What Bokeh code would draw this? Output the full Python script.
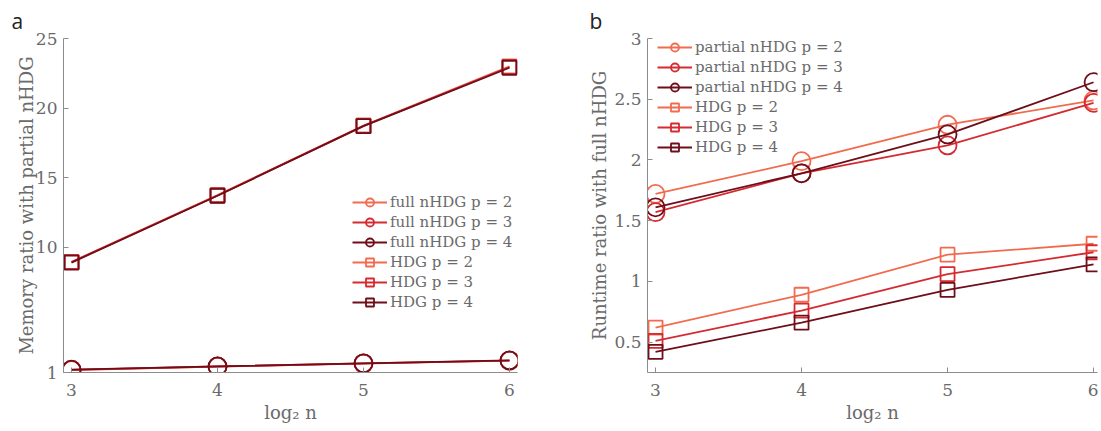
from bokeh.plotting import figure
from bokeh.layouts import row
from bokeh.models import FixedTicker, Legend, LegendItem, Range1d, Title
from bokeh.embed import file_html
from bokeh.resources import INLINE

# ---- data ----
log2n = [3, 4, 5, 6]
p_values = [2, 3, 4]
colors = ["#F26B4F", "#D42A30", "#6E0E1A"]

# panel a: memory ratio with partial nHDG
mem_full = {2: [1.18, 1.42, 1.64, 1.85], 3: [1.19, 1.43, 1.65, 1.86], 4: [1.2, 1.44, 1.66, 1.87]}
mem_hdg = {2: [8.95, 13.75, 18.75, 23.0], 3: [8.93, 13.72, 18.72, 22.95], 4: [8.9, 13.7, 18.7, 22.9]}
mem_yticks = [1, 10, 15, 20, 25]

# panel b: runtime ratio with full nHDG
run_partial = {2: [1.72, 1.99, 2.29, 2.49], 3: [1.57, 1.89, 2.12, 2.47], 4: [1.61, 1.89, 2.21, 2.64]}
run_hdg = {2: [0.62, 0.89, 1.22, 1.31], 3: [0.51, 0.76, 1.06, 1.24], 4: [0.42, 0.66, 0.93, 1.14]}
run_yticks = [0.5, 1, 1.5, 2, 2.5, 3]
run_ytick_labels = {0.5: "0.5", 1: "1", 1.5: "1.5", 2: "2", 2.5: "2.5", 3: "3"}

SERIF = "DejaVu Serif"
GREY = "#6a6a6a"
AXIS = "#8c8c8c"
H = 426
TOP = 38
BOTTOM = 54


def style(p, ylabel, yticks, ylabel_standoff):
    for ax in (p.xaxis[0], p.yaxis[0]):
        ax.axis_line_color = AXIS
        ax.major_tick_line_color = AXIS
        ax.major_tick_in = 5
        ax.major_tick_out = 0
        ax.minor_tick_line_color = None
        ax.major_label_text_font = SERIF
        ax.major_label_text_font_size = "17px"
        ax.major_label_text_color = GREY
        ax.axis_label_text_font = SERIF
        ax.axis_label_text_font_size = "18px"
        ax.axis_label_text_font_style = "normal"
        ax.axis_label_text_color = GREY
    p.xaxis.ticker = FixedTicker(ticks=log2n)
    p.yaxis.ticker = FixedTicker(ticks=yticks)
    p.xaxis.axis_label = "log\u2082 n"
    p.yaxis.axis_label = ylabel
    p.xaxis.major_label_standoff = 11
    p.yaxis.major_label_standoff = 6
    p.xaxis.axis_label_standoff = 3
    p.yaxis.axis_label_standoff = ylabel_standoff
    p.grid.visible = False
    p.outline_line_color = None


def make_fig(width, left_border, right_border, xr, yr, panel_letter, letter_offset):
    p = figure(width=width, height=H, output_backend="svg", toolbar_location=None,
               x_range=xr, y_range=yr,
               min_border_left=left_border, min_border_right=right_border,
               min_border_top=TOP, min_border_bottom=BOTTOM)
    p.add_layout(Title(text=panel_letter, align="left", offset=letter_offset,
                       text_font="Open Sans", text_font_size="21px",
                       text_font_style="normal", text_color="#222222", standoff=8),
                 "above")
    return p


def add_series(p, data, marker, size, prefix, items):
    for p_, c in zip(p_values, colors):
        l = p.line(log2n, data[p_], line_color=c, line_width=1.8)
        s = p.scatter(log2n, data[p_], marker=marker, size=size, fill_color=None,
                      line_color=c, line_width=1.8)
        items.append(LegendItem(label=f"{prefix} p = {p_}", renderers=[l, s]))


def make_legend(items, loc):
    return Legend(items=items, location=loc, border_line_color=None,
                  background_fill_alpha=0, padding=0, spacing=0, margin=0,
                  label_height=20, glyph_height=20, glyph_width=35, label_standoff=3,
                  label_text_font=SERIF, label_text_font_size="15px",
                  label_text_color=GREY)


# ---- panel a ----
pa = make_fig(545, 63, 28, Range1d(2.945, 6.055), Range1d(1, 25), "a", -52)
style(pa, "Memory ratio with partial nHDG", mem_yticks, -4)
items_a = []
add_series(pa, mem_full, "circle", 18, "full nHDG", items_a)
add_series(pa, mem_hdg, "square", 14, "HDG", items_a)
pa.add_layout(make_legend(items_a, (289, 60)))

# ---- panel b ----
pb = make_fig(553, 102, 1, Range1d(2.945, 6.027), Range1d(0.25, 3), "b", -58)
style(pb, "Runtime ratio with full nHDG", run_yticks, 1)
pb.yaxis.major_label_overrides = run_ytick_labels
items_b = []
add_series(pb, run_partial, "circle", 18, "partial nHDG", items_b)
add_series(pb, run_hdg, "square", 14, "HDG", items_b)
pb.add_layout(make_legend(items_b, (10, 215)))

layout = row(pa, pb)
open("out.html", "w").write(file_html(layout, INLINE))
